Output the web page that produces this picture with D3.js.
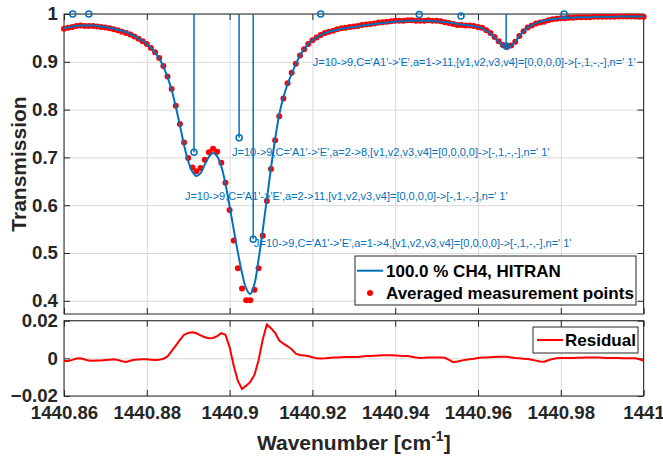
<!DOCTYPE html>
<html>
<head>
<meta charset="utf-8">
<script src="https://cdn.jsdelivr.net/npm/d3@7"></script>
<style>
  body { margin: 0; background: #fff; }
  text { font-family: "Liberation Sans", Arial, Helvetica, sans-serif; }
</style>
</head>
<body>
<div id="chart"></div>
<script>

// averaged points are on a regular wavenumber grid (cm-1)
const wnStart = 1440.86;
const wnStep = 0.001;

// HITRAN model transmission, 100 % CH4
const hitran = [
  0.970, 0.972, 0.974, 0.975, 0.976, 0.976, 0.976, 0.976, 0.975, 0.974,
  0.973, 0.971, 0.969, 0.967, 0.965, 0.962, 0.958, 0.954, 0.949, 0.944,
  0.937, 0.929, 0.919, 0.907, 0.890, 0.868, 0.841, 0.806, 0.767, 0.726,
  0.692, 0.670, 0.661, 0.667, 0.685, 0.701, 0.709, 0.702, 0.681, 0.645,
  0.598, 0.549, 0.501, 0.458, 0.426, 0.414, 0.435, 0.487, 0.547, 0.613,
  0.678, 0.738, 0.790, 0.826, 0.853, 0.875, 0.895, 0.913, 0.926, 0.937,
  0.945, 0.951, 0.956, 0.960, 0.963, 0.965, 0.967, 0.969, 0.970, 0.972,
  0.973, 0.974, 0.976, 0.977, 0.978, 0.979, 0.980, 0.981, 0.982, 0.983,
  0.984, 0.985, 0.985, 0.986, 0.986, 0.986, 0.986, 0.986, 0.986, 0.985,
  0.985, 0.984, 0.983, 0.982, 0.981, 0.979, 0.978, 0.977, 0.976, 0.975,
  0.973, 0.970, 0.965, 0.959, 0.951, 0.942, 0.934, 0.930, 0.933, 0.942,
  0.954, 0.964, 0.972, 0.977, 0.981, 0.984, 0.986, 0.988, 0.989, 0.990,
  0.991, 0.991, 0.992, 0.992, 0.993, 0.993, 0.993, 0.993, 0.994, 0.994,
  0.994, 0.994, 0.994, 0.994, 0.995, 0.995, 0.995, 0.995, 0.995, 0.995,
  0.995
];

// averaged measurement points
const measured = [
  0.969, 0.971, 0.973, 0.975, 0.976, 0.975, 0.975, 0.975, 0.974, 0.973,
  0.972, 0.970, 0.968, 0.966, 0.963, 0.960, 0.957, 0.953, 0.948, 0.943,
  0.937, 0.929, 0.920, 0.908, 0.891, 0.869, 0.843, 0.808, 0.770, 0.731,
  0.699, 0.679, 0.671, 0.678, 0.695, 0.711, 0.718, 0.712, 0.689, 0.647,
  0.590, 0.526, 0.468, 0.426, 0.401, 0.401, 0.423, 0.468, 0.536, 0.609,
  0.676, 0.736, 0.786, 0.823, 0.855, 0.877, 0.896, 0.913, 0.926, 0.937,
  0.945, 0.951, 0.956, 0.960, 0.963, 0.965, 0.968, 0.970, 0.971, 0.973,
  0.974, 0.975, 0.977, 0.978, 0.979, 0.980, 0.982, 0.983, 0.984, 0.985,
  0.986, 0.986, 0.986, 0.987, 0.987, 0.986, 0.986, 0.986, 0.987, 0.986,
  0.986, 0.985, 0.983, 0.981, 0.979, 0.977, 0.977, 0.976, 0.976, 0.975,
  0.973, 0.971, 0.966, 0.960, 0.952, 0.943, 0.935, 0.931, 0.934, 0.942,
  0.954, 0.964, 0.972, 0.976, 0.980, 0.982, 0.984, 0.987, 0.989, 0.990,
  0.991, 0.991, 0.992, 0.992, 0.993, 0.993, 0.993, 0.993, 0.994, 0.994,
  0.994, 0.994, 0.994, 0.994, 0.995, 0.995, 0.995, 0.995, 0.995, 0.994,
  0.994
];

// residual (measurement - model)
const residual = [
  -0.0014, -0.0014, -0.0008, -0.0001, 0.0000, -0.0006, -0.0012, -0.0013, -0.0012, -0.0011,
  -0.0009, -0.0007, -0.0005, -0.0009, -0.0015, -0.0019, -0.0013, -0.0008, -0.0006, -0.0005,
  -0.0005, -0.0007, -0.0009, -0.0008, -0.0002, 0.0010, 0.0038, 0.0068, 0.0098, 0.0125,
  0.0135, 0.0138, 0.0133, 0.0122, 0.0112, 0.0107, 0.0108, 0.0118, 0.0134, 0.0125,
  0.0060, -0.0040, -0.0120, -0.0163, -0.0145, -0.0125, -0.0088, -0.0010, 0.0100, 0.0180,
  0.0160, 0.0135, 0.0095, 0.0078, 0.0064, 0.0048, 0.0025, 0.0018, 0.0015, 0.0012,
  0.0006, 0.0000, -0.0001, 0.0000, 0.0002, 0.0004, 0.0005, 0.0006, 0.0007, 0.0007,
  0.0007, 0.0007, 0.0010, 0.0012, 0.0013, 0.0014, 0.0015, 0.0016, 0.0016, 0.0016,
  0.0015, 0.0014, 0.0013, 0.0012, 0.0008, 0.0004, 0.0002, 0.0003, 0.0005, 0.0005,
  0.0005, 0.0005, 0.0003, -0.0008, -0.0020, -0.0017, -0.0012, -0.0008, -0.0005, -0.0002,
  0.0002, 0.0005, 0.0005, 0.0006, 0.0007, 0.0008, 0.0009, 0.0008, 0.0005, 0.0002,
  0.0000, -0.0002, -0.0004, -0.0008, -0.0012, -0.0017, -0.0018, -0.0010, -0.0003, 0.0000,
  0.0002, 0.0002, 0.0002, 0.0002, 0.0003, 0.0003, 0.0004, 0.0004, 0.0004, 0.0004,
  0.0003, 0.0002, 0.0002, 0.0002, 0.0002, 0.0001, 0.0001, 0.0000, 0.0000, -0.0005,
  -0.0013
];

// HITRAN line positions and marker heights (stems from 1 down)
const lineWn = [1440.8621, 1440.8660, 1440.8914, 1440.9023, 1440.9057,
                1440.9220, 1440.9458, 1440.9559, 1440.9668, 1440.9808];
const lineT  = [1.000, 1.000, 0.711, 0.741, 0.529, 1.000, 0.999, 0.996, 0.933, 1.000];

// line assignment labels
const labelWn = [1440.9201, 1440.9006, 1440.8892, 1440.9059];
const labelT  = [0.900, 0.710, 0.618, 0.520];
const labelText = [
  "J=10->9,C='A1'->'E',a=1->11,[v1,v2,v3,v4]=[0,0,0,0]->[-,1,-,-],n=' 1'",
  "J=10->9,C='A1'->'E',a=2->8,[v1,v2,v3,v4]=[0,0,0,0]->[-,1,-,-],n=' 1'",
  "J=10->9,C='A1'->'E',a=2->11,[v1,v2,v3,v4]=[0,0,0,0]->[-,1,-,-],n=' 1'",
  "J=10->9,C='A1'->'E',a=1->4,[v1,v2,v3,v4]=[0,0,0,0]->[-,1,-,-],n=' 1'"
];

// ticks
const xTicks = [1440.86, 1440.88, 1440.9, 1440.92, 1440.94, 1440.96, 1440.98, 1441];
const xTickLabels = ["1440.86", "1440.88", "1440.9", "1440.92", "1440.94", "1440.96", "1440.98", "1441"];
const yTicksTop = [0.4, 0.5, 0.6, 0.7, 0.8, 0.9, 1];
const yTicksBottom = [-0.02, 0, 0.02];

const wavenumber = d3.range(hitran.length).map(i => +(wnStart + i * wnStep).toFixed(3));

// layout
const width = 663;
const height = 457;
const left = 64, right = 643.6;
const top1 = {y0: 14, y1: 314};
const bot1 = {y0: 320.7, y1: 396};
const tickLen = 6;

const blue = "#0072BD";
const red = "#FF0000";
const axisColor = "#262626";
const gridColor = "#d9d9d9";

const svg = d3.select("#chart")
  .append("svg")
  .attr("width", width)
  .attr("height", height);

svg.append("rect").attr("width", width).attr("height", height).attr("fill", "#fff");

const x = d3.scaleLinear().domain([1440.86, 1441]).range([left, right]);
const yTop = d3.scaleLinear().domain([0.3724, 1]).range([top1.y1, top1.y0]);
const yBot = d3.scaleLinear().domain([-0.02, 0.02]).range([bot1.y1, bot1.y0]);

// draws grid, ticks on all 4 sides and the box of one axes
function drawAxes(yScale, box, yTicks, showXLabels) {
  const h = box.y1 - box.y0;
  const w = right - left;

  // grid
  const grid = svg.append("g");
  grid.append("g")
    .attr("transform", `translate(0,${box.y1})`)
    .call(d3.axisBottom(x).tickValues(xTicks).tickSize(-h).tickFormat(""));
  grid.append("g")
    .attr("transform", `translate(${left},0)`)
    .call(d3.axisLeft(yScale).tickValues(yTicks).tickSize(-w).tickFormat(""));
  grid.selectAll(".domain").remove();
  grid.selectAll("line").attr("stroke", gridColor).attr("stroke-width", 1);

  const ax = svg.append("g").attr("class", "axes");

  ax.append("g")
    .attr("transform", `translate(0,${box.y1})`)
    .call(d3.axisBottom(x).tickValues(xTicks).tickSizeInner(-tickLen).tickSizeOuter(0)
      .tickPadding(10)
      .tickFormat((d, i) => showXLabels ? xTickLabels[i] : ""));
  ax.append("g")
    .attr("transform", `translate(0,${box.y0})`)
    .call(d3.axisTop(x).tickValues(xTicks).tickSizeInner(-tickLen).tickSizeOuter(0).tickFormat(""));
  ax.append("g")
    .attr("transform", `translate(${left},0)`)
    .call(d3.axisLeft(yScale).tickValues(yTicks).tickSizeInner(-tickLen).tickSizeOuter(0)
      .tickPadding(6)
      .tickFormat(d => d3.format("")(+d.toFixed(2))));
  ax.append("g")
    .attr("transform", `translate(${right},0)`)
    .call(d3.axisRight(yScale).tickValues(yTicks).tickSizeInner(-tickLen).tickSizeOuter(0).tickFormat(""));

  ax.selectAll(".domain").remove();
  ax.selectAll("line").attr("stroke", axisColor).attr("stroke-width", 1);
  ax.selectAll("text")
    .attr("font-family", "'Liberation Sans', Arial, sans-serif")
    .attr("font-size", "18.67px")
    .attr("font-weight", "bold")
    .attr("fill", axisColor);

  ax.append("rect")
    .attr("x", left).attr("y", box.y0)
    .attr("width", w).attr("height", h)
    .attr("fill", "none")
    .attr("stroke", axisColor)
    .attr("stroke-width", 1);
}

drawAxes(yTop, top1, yTicksTop, false);
drawAxes(yBot, bot1, yTicksBottom, true);

// measurement points
svg.append("g")
  .selectAll("circle")
  .data(measured)
  .join("circle")
    .attr("cx", (d, i) => x(wavenumber[i]))
    .attr("cy", d => yTop(d))
    .attr("r", 3)
    .attr("fill", red);

// HITRAN model line
const modelLine = d3.line()
  .x((d, i) => x(wavenumber[i]))
  .y(d => yTop(d))
  .curve(d3.curveCatmullRom);

svg.append("path")
  .datum(hitran)
  .attr("d", modelLine)
  .attr("fill", "none")
  .attr("stroke", blue)
  .attr("stroke-width", 2);

// stems for the HITRAN lines
const stems = svg.append("g");
stems.selectAll("line")
  .data(lineWn)
  .join("line")
    .attr("x1", d => x(d)).attr("x2", d => x(d))
    .attr("y1", yTop(1))
    .attr("y2", (d, i) => yTop(lineT[i]))
    .attr("stroke", blue)
    .attr("stroke-width", 1.5);
stems.selectAll("circle")
  .data(lineWn)
  .join("circle")
    .attr("cx", d => x(d))
    .attr("cy", (d, i) => yTop(lineT[i]))
    .attr("r", 3)
    .attr("fill", "none")
    .attr("stroke", blue)
    .attr("stroke-width", 1.5);

// labels
svg.append("g")
  .selectAll("text")
  .data(labelText)
  .join("text")
    .attr("x", (d, i) => x(labelWn[i]))
    .attr("y", (d, i) => yTop(labelT[i]))
    .attr("dy", "0.35em")
    .attr("font-size", "11px")
    .attr("fill", blue)
    .text(d => d);

// residual line
const resLine = d3.line()
  .x((d, i) => x(wavenumber[i]))
  .y(d => yBot(d));

svg.append("path")
  .datum(residual)
  .attr("d", resLine)
  .attr("fill", "none")
  .attr("stroke", red)
  .attr("stroke-width", 2);

// legends
const leg = svg.append("g").attr("font-size", "17px").attr("font-weight", "bold").attr("fill", "#000");
leg.append("rect")
  .attr("x", 355).attr("y", 256).attr("width", 281).attr("height", 49)
  .attr("fill", "#fff").attr("stroke", axisColor).attr("stroke-width", 1);
leg.append("line")
  .attr("x1", 357).attr("x2", 383).attr("y1", 270.7).attr("y2", 270.7)
  .attr("stroke", blue).attr("stroke-width", 2);
leg.append("text").attr("x", 386).attr("y", 270.7).attr("dy", "0.35em").text("100.0 % CH4, HITRAN");
leg.append("circle").attr("cx", 370).attr("cy", 293).attr("r", 3).attr("fill", red);
leg.append("text").attr("x", 386).attr("y", 293).attr("dy", "0.35em").text("Averaged measurement points");

leg.append("rect")
  .attr("x", 533).attr("y", 327).attr("width", 105).attr("height", 26)
  .attr("fill", "#fff").attr("stroke", axisColor).attr("stroke-width", 1);
leg.append("line")
  .attr("x1", 537).attr("x2", 563).attr("y1", 340).attr("y2", 340)
  .attr("stroke", red).attr("stroke-width", 2);
leg.append("text").attr("x", 565).attr("y", 340).attr("dy", "0.35em").text("Residual");

// axis labels
const xLabel = svg.append("text")
  .attr("x", (left + right) / 2)
  .attr("y", 450)
  .attr("text-anchor", "middle")
  .attr("font-size", "21px")
  .attr("font-weight", "bold")
  .attr("fill", axisColor);
xLabel.append("tspan").text("Wavenumber [cm");
xLabel.append("tspan").attr("font-size", "14px").attr("dy", -9).text("-1");
xLabel.append("tspan").attr("dy", 9).text("]");

svg.append("text")
  .attr("transform", `translate(26,${(top1.y0 + top1.y1) / 2}) rotate(-90)`)
  .attr("text-anchor", "middle")
  .attr("font-size", "21px")
  .attr("font-weight", "bold")
  .attr("fill", axisColor)
  .text("Transmission");

</script>
</body>
</html>
